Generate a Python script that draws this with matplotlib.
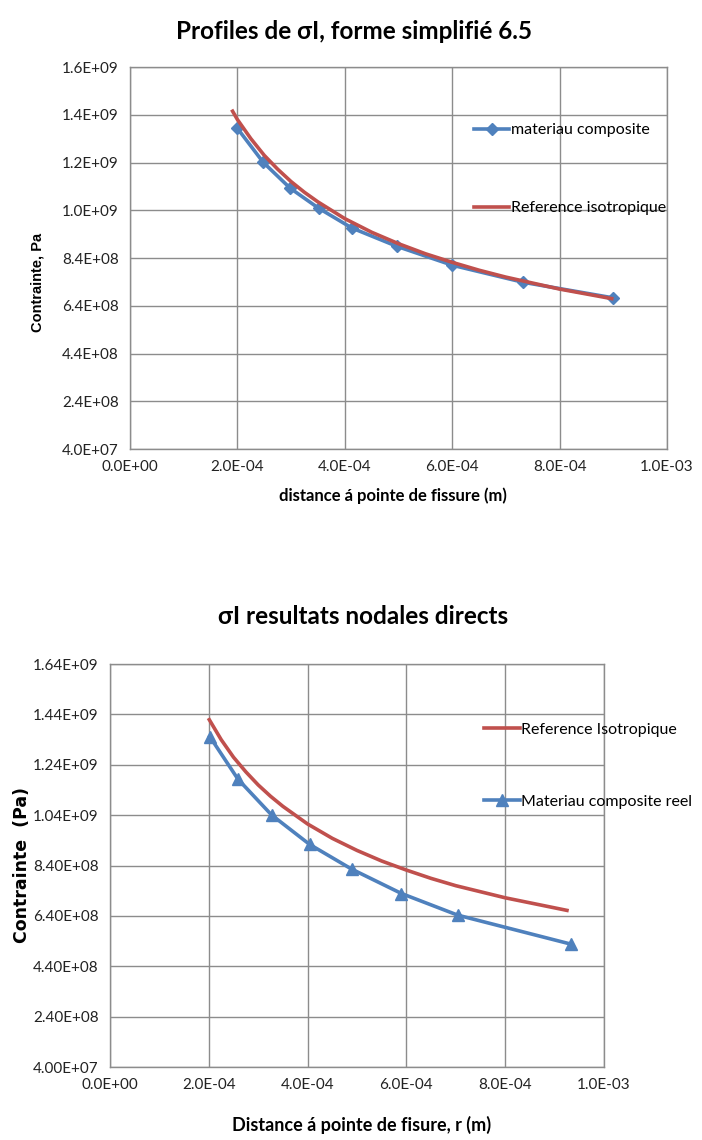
import numpy as np
import matplotlib
matplotlib.use('Agg')
import matplotlib.pyplot as plt
from matplotlib.ticker import FuncFormatter, MultipleLocator

plt.rcParams['font.family'] = ['Lato', 'DejaVu Sans']

#### DATA ####
# chart 1 : Profiles de sigma I, forme simplifie 6.5
top_comp_x = [1.99e-4, 2.48e-4, 2.98e-4, 3.51e-4, 4.13e-4, 4.97e-4, 6.00e-4, 7.31e-4, 9.00e-4]
top_comp_y = [1.386e9, 1.241e9, 1.133e9, 1.049e9, 9.66e8, 8.89e8, 8.10e8, 7.39e8, 6.73e8]
top_ref_x = [1.91e-4, 2.0e-4, 2.25e-4, 2.5e-4, 2.75e-4, 3.0e-4, 3.25e-4, 3.5e-4, 4.0e-4, 4.5e-4,
             5.0e-4, 5.5e-4, 6.0e-4, 6.5e-4, 7.0e-4, 8.0e-4, 8.97e-4]
top_ref_y = [1.455e9, 1.42e9, 1.34e9, 1.27e9, 1.212e9, 1.16e9, 1.115e9, 1.075e9, 1.005e9, 9.48e8,
             9.0e8, 8.58e8, 8.22e8, 7.89e8, 7.6e8, 7.1e8, 6.7e8]

# chart 2 : sigma I resultats nodales directs
bot_ref_x = [2.01e-4, 2.25e-4, 2.5e-4, 2.75e-4, 3.0e-4, 3.25e-4, 3.5e-4, 4.0e-4, 4.5e-4, 5.0e-4,
             5.5e-4, 6.0e-4, 6.5e-4, 7.0e-4, 8.0e-4, 9.25e-4]
bot_ref_y = [1.419e9, 1.34e9, 1.27e9, 1.212e9, 1.16e9, 1.115e9, 1.075e9, 1.005e9, 9.48e8, 9.0e8,
             8.58e8, 8.22e8, 7.89e8, 7.6e8, 7.12e8, 6.62e8]
bot_comp_x = [2.02e-4, 2.59e-4, 3.27e-4, 4.04e-4, 4.89e-4, 5.90e-4, 7.04e-4, 9.33e-4]
bot_comp_y = [1.352e9, 1.183e9, 1.041e9, 9.24e8, 8.26e8, 7.29e8, 6.43e8, 5.28e8]

BLUE = '#4f81bd'
RED = '#c0504d'
GRID = '#8c8c8c'

fig = plt.figure(figsize=(7.02, 11.4), dpi=100)

def style_axes(ax, yfmt):
    ax.set_xlim(0, 1e-3)
    ax.set_ylim(4e7, 1.64e9)
    ax.xaxis.set_major_locator(MultipleLocator(2e-4))
    ax.set_yticks(np.arange(4e7, 1.65e9, 2e8))
    ax.xaxis.set_major_formatter(FuncFormatter(lambda v, p: '{:.1E}'.format(v)))
    ax.yaxis.set_major_formatter(FuncFormatter(lambda v, p: yfmt.format(v)))
    ax.grid(True, color=GRID, lw=1.0)
    ax.set_axisbelow(True)
    for s in ax.spines.values():
        s.set_color(GRID)
        s.set_linewidth(1.0)
    ax.tick_params(length=0, labelsize=11, colors='#222222', pad=8)

### TOP CHART ###
ax1 = fig.add_axes([0.1852, 0.6061, 0.765, 0.3351])
style_axes(ax1, '{:.1E}')
ax1.plot(top_comp_x, top_comp_y, '-D', color=BLUE, lw=2.6, ms=6.5, label='materiau composite')
ax1.plot(top_ref_x, top_ref_y, '-', color=RED, lw=2.6, label='Reference isotropique')
ax1.legend(loc='upper left', bbox_to_anchor=(0.629, 0.87), frameon=False, fontsize=11.5,
           labelspacing=4.0, handlelength=2.2, handletextpad=0.1, borderaxespad=0)
fig.text(0.504, 0.972, 'Profiles de σI, forme simplifié 6.5', ha='center', va='center',
         fontsize=17.5, fontweight='bold')
fig.text(0.053, 0.752, 'Contrainte, Pa', rotation=90, ha='center', va='center',
         fontsize=10.5, fontweight='bold', family=['Liberation Sans', 'DejaVu Sans'])
fig.text(0.56, 0.565, 'distance á pointe de fissure (m)', ha='center', va='center',
         fontsize=12, fontweight='bold')

### BOTTOM CHART ###
ax2 = fig.add_axes([0.1567, 0.064, 0.7037, 0.3535])
style_axes(ax2, '{:.2E}')
ax2.plot(bot_ref_x, bot_ref_y, '-', color=RED, lw=2.6, label='Reference Isotropique')
ax2.plot(bot_comp_x, bot_comp_y, '-^', color=BLUE, lw=2.6, ms=9, label='Materiau composite reel')
ax2.legend(loc='upper left', bbox_to_anchor=(0.745, 0.87), frameon=False, fontsize=11.5,
           labelspacing=3.6, handlelength=2.2, handletextpad=0.1, borderaxespad=0)
fig.text(0.517, 0.459, 'σI resultats nodales directs', ha='center', va='center',
         fontsize=17.5, fontweight='bold')
fig.text(0.032, 0.241, 'Contrainte  (Pa)', rotation=90, ha='center', va='center',
         fontsize=12.5, fontweight='bold', family=['DejaVu Sans'])
fig.text(0.515, 0.013, 'Distance á pointe de fisure, r (m)', ha='center', va='center',
         fontsize=13, fontweight='bold')

plt.savefig('out.png', dpi=100)
